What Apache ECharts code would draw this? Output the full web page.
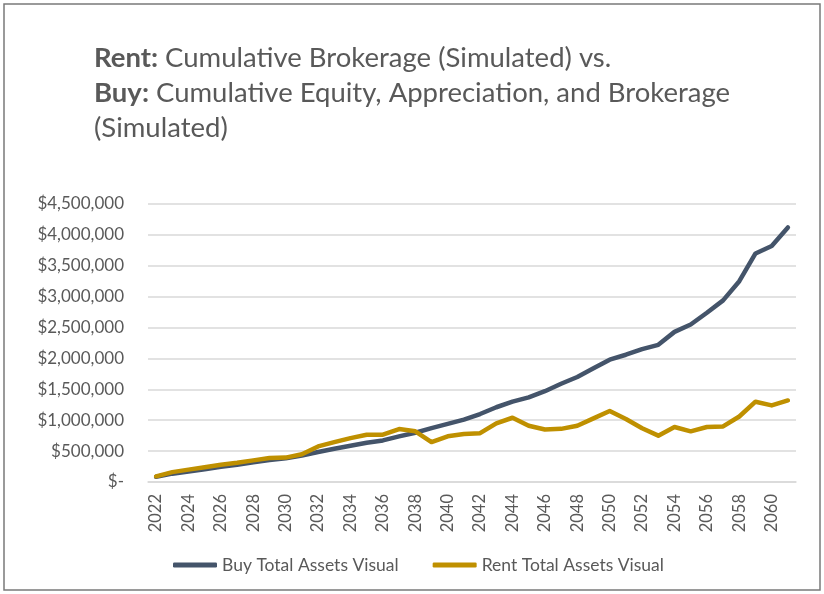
<!DOCTYPE html>
<html>
<head>
<meta charset="utf-8">
<script src="https://cdn.jsdelivr.net/npm/echarts@6/dist/echarts.min.js"></script>
<style>
  html, body { margin: 0; padding: 0; background: #fff; }
  #main { width: 824px; height: 594px; }
</style>
</head>
<body>
<div id="main"></div>
<script>
// years on the x axis
var years = [];
for (var y = 2022; y <= 2061; y++) years.push(String(y));

// Buy Total Assets Visual
var buyValues = [
  85000, 135000, 170000, 205000, 245000, 280000, 320000, 355000, 385000, 430000,
  485000, 538000, 586000, 635000, 673000, 738000, 797000, 873000, 940000, 1010000,
  1100000, 1210000, 1300000, 1370000, 1470000, 1590000, 1700000, 1840000, 1980000, 2060000,
  2150000, 2220000, 2430000, 2550000, 2740000, 2940000, 3250000, 3700000, 3820000, 4120000
];

// Rent Total Assets Visual
var rentValues = [
  92000, 160000, 200000, 240000, 280000, 310000, 350000, 390000, 395000, 450000,
  576000, 646000, 710000, 765000, 765000, 857000, 820000, 646000, 740000, 776000,
  790000, 950000, 1040000, 910000, 850000, 860000, 910000, 1030000, 1150000, 1020000,
  870000, 750000, 890000, 820000, 890000, 900000, 1060000, 1300000, 1240000, 1320000
];

var textColor = '#595959';
var fontName = 'Lato';

var myChart = echarts.init(document.getElementById('main'));

function money(v) {
  if (v === 0) return '$-';
  return '$' + v.toLocaleString('en-US');
}

var option = {
  animation: false,
  backgroundColor: '#fff',
  title: {
    left: 89,
    top: 36,
    text: '{b|Rent:} Cumulative Brokerage (Simulated) vs.\n{b|Buy:} Cumulative Equity, Appreciation, and Brokerage\n(Simulated)',
    textStyle: {
      color: textColor,
      fontFamily: fontName,
      fontSize: 27.5,
      fontWeight: 'normal',
      lineHeight: 35,
      rich: {
        b: { fontWeight: 'bold', color: textColor, fontFamily: fontName, fontSize: 27.5, lineHeight: 35 }
      }
    }
  },
  graphic: [{
    type: 'rect',
    shape: { x: 4, y: 4, width: 816, height: 586 },
    style: { fill: 'none', stroke: '#7a7a7a', lineWidth: 1.5 },
    silent: true
  }],
  legend: {
    left: 168,
    top: 551,
    itemWidth: 44,
    itemHeight: 5,
    itemGap: 34,
    icon: 'roundRect',
    textStyle: { color: textColor, fontFamily: fontName, fontSize: 17.5 },
    data: ['Buy Total Assets Visual', 'Rent Total Assets Visual']
  },
  grid: {
    left: 148,
    right: 28,
    top: 204,
    bottom: 112
  },
  xAxis: {
    type: 'category',
    data: years,
    boundaryGap: true,
    axisLine: { lineStyle: { color: '#d9d9d9', width: 1.5 } },
    axisTick: { show: false },
    axisLabel: {
      interval: 1,
      rotate: 90,
      margin: 12,
      color: textColor,
      fontFamily: fontName,
      fontSize: 16.5
    }
  },
  yAxis: {
    type: 'value',
    min: 0,
    max: 4500000,
    interval: 500000,
    axisLine: { show: false },
    axisTick: { show: false },
    splitLine: { lineStyle: { color: '#d9d9d9', width: 1.5 } },
    axisLabel: {
      margin: 24,
      color: textColor,
      fontFamily: fontName,
      fontSize: 17,
      formatter: money
    }
  },
  series: [{
    name: 'Buy Total Assets Visual',
    type: 'line',
    symbol: 'none',
    color: '#44546a',
    lineStyle: { width: 4.5, cap: 'round', join: 'round' },
    data: buyValues
  }, {
    name: 'Rent Total Assets Visual',
    type: 'line',
    symbol: 'none',
    color: '#bf9000',
    lineStyle: { width: 4.5, cap: 'round', join: 'round' },
    data: rentValues
  }]
};

myChart.setOption(option);
</script>
</body>
</html>
